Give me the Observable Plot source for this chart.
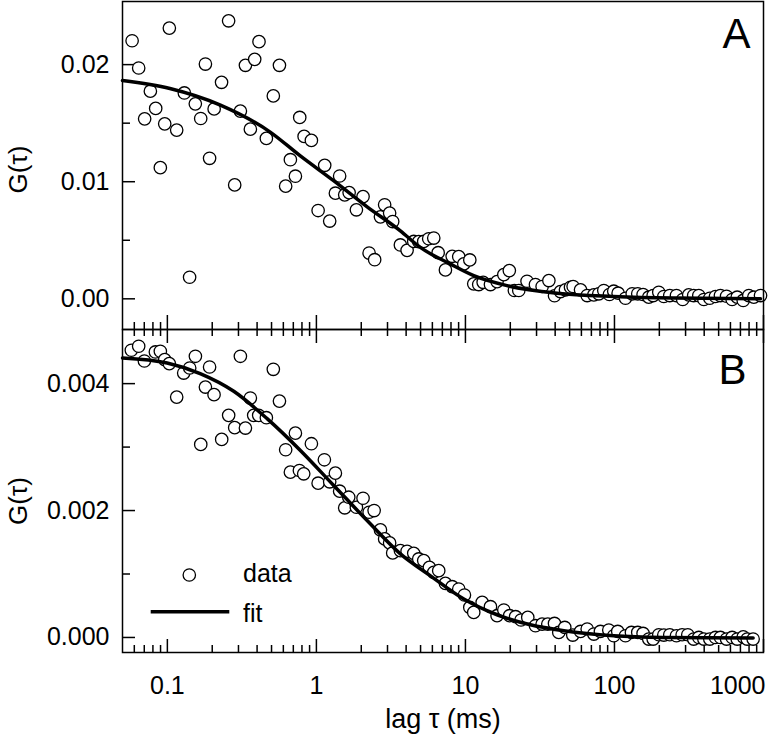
<!DOCTYPE html>
<html><head><meta charset="utf-8">
<script src="https://cdn.jsdelivr.net/npm/d3@7"></script>
<script src="https://cdn.jsdelivr.net/npm/@observablehq/plot@0.6"></script>
<style>
body{margin:0;background:#fff;}
#chart{position:relative;width:769px;height:737px;font-family:"Liberation Sans",Arial,sans-serif;}
#chart svg{position:absolute;left:0;overflow:visible;}
</style></head><body><div id="chart"></div>
<script>
// Panel A data
const tauA = [0.058,0.0642,0.0769,0.0704,0.0835,0.0897,0.096,0.1031,0.1155,0.130,0.141,0.154,0.1674,0.180,0.192,0.206,0.231,0.2576,0.283,0.309,0.334,0.3605,0.3855,0.412,0.4616,0.514,0.565,0.622,0.669,0.723,0.773,0.827,0.9256,1.027,1.137,1.228,1.341,1.432,1.549,1.658,1.855,2.056,2.258,2.46,2.69,2.87,3.1,3.25,3.66,4.06,4.5,4.86,5.25,5.67,6.13,6.56,7.34,8.15,9.02,9.75,10.7,11.37,12.28,13.15,14.72,16.3,18.1,19.7,21.3,22.8,25.9,29.5,32.7,36.3,39.6,43.4,46.9,50.7,52.8,59.2,65.6,72.7,78.5,84.8,92.5,98.9,105.8,118.5,131.5,143.3,155.6,169.8,181.8,198.3,214.3,235,260.6,287,315,340,368,398,436,476,514,565,616,666,731,797,861,955];
const gA = [0.02204,0.01971,0.01773,0.01537,0.01626,0.0112,0.01494,0.02312,0.01441,0.01758,0.00184,0.01665,0.0154,0.02005,0.012,0.01622,0.01849,0.02374,0.00973,0.01603,0.01994,0.01449,0.02045,0.02196,0.0137,0.01733,0.01994,0.00962,0.01188,0.01047,0.01549,0.01387,0.01353,0.00754,0.0114,0.00664,0.00902,0.01049,0.00888,0.00907,0.0076,0.00873,0.00391,0.00334,0.007,0.00803,0.00732,0.0066,0.0046,0.00414,0.0049,0.00488,0.0049,0.00513,0.00519,0.00394,0.00247,0.00363,0.0036,0.00298,0.00332,0.00128,0.00122,0.00141,0.00122,0.00147,0.00207,0.00241,0.00071,0.00071,0.0015,0.00122,0.00105,0.00156,0.00026,0.00062,0.00077,0.00099,0.00105,0.00077,0.00028,0.00034,0.00043,0.00071,0.00037,0.00065,0.00048,0.00005,0.00043,0.00043,0.00037,0.00014,0.00028,0.00056,0.0002,0.00028,0.00028,-0.00006,0.00034,0.00028,0.00028,-0.00006,0.00005,0.0002,0.00028,0.00022,-0.00006,0.00014,-0.00014,0.00028,0.00014,0.00028];
const fitTauA = [0.05,0.104,0.227,0.49,0.78,1.31,2.19,3.66,4.98,7.9,11.37,19.0,41.2,98.9,250,955];
const fitGA = [0.01864,0.01796,0.01654,0.01424,0.0122,0.01007,0.00786,0.00581,0.00439,0.00298,0.00198,0.00113,0.00048,0.0002,0.00006,0.0];

// Panel B data
const tauB = [0.0573,0.0642,0.0701,0.0831,0.0897,0.096,0.103,0.1155,0.1287,0.1412,0.1542,0.1675,0.18,0.192,0.2057,0.2315,0.2578,0.283,0.309,0.334,0.3605,0.3795,0.41,0.4616,0.514,0.565,0.622,0.669,0.723,0.769,0.822,0.9256,1.027,1.131,1.228,1.341,1.432,1.549,1.648,1.855,2.056,2.258,2.44,2.69,2.87,3.1,3.25,3.66,4.06,4.5,4.86,5.25,5.73,6.13,6.62,7.34,8.15,9.02,9.85,10.7,11.37,12.95,14.72,16.3,18.1,19.8,21.7,23.6,26.2,29.5,32.7,35.7,39.6,42.3,46.4,52.5,59.2,65.6,72.7,80.5,91.6,98.9,105.2,118.5,130,143.3,155.6,169.8,181.8,198.3,214.3,235,260.6,284.5,310.5,340,368,398,436,476,514,565,616,666,731,777,852];
const gB = [0.004526,0.004589,0.004357,0.004499,0.00451,0.004379,0.004316,0.003788,0.004167,0.004246,0.004431,0.003042,0.003946,0.004262,0.003826,0.003121,0.0035,0.003306,0.004431,0.0033,0.003773,0.0035,0.0035,0.003463,0.004226,0.003725,0.002958,0.002605,0.00322,0.002631,0.002579,0.003053,0.002431,0.0028,0.002453,0.002589,0.002305,0.002043,0.00221,0.002052,0.002194,0.001973,0.002,0.001695,0.001553,0.00149,0.001332,0.001369,0.001358,0.001326,0.001237,0.001211,0.001105,0.001026,0.001053,0.000852,0.0008,0.000764,0.000669,0.000474,0.000395,0.000553,0.000485,0.000343,0.000432,0.000343,0.000327,0.000275,0.000316,0.000185,0.000211,0.000211,0.000221,0.000079,0.000158,0.000038,0.000095,0.000133,0.000054,0.000095,0.000117,0.000027,0.000095,0.000027,0.000079,0.000079,0.000063,-0.000025,-0.000025,0.000043,0.000038,0.000043,0.000027,0.000043,0.000043,-0.000025,0,-0.000025,-0.000025,0,0,-0.000025,0,-0.000025,0.00001,-0.000025,-0.000025];
const fitTauB = [0.05,0.0996,0.166,0.279,0.467,0.781,1.307,2.19,3.66,5.8,9.75,16.3,27.3,45.8,98.9,214,852];
const fitGB = [0.004404,0.004325,0.004158,0.003879,0.003448,0.002947,0.002395,0.001842,0.001317,0.000974,0.000606,0.000358,0.0002,0.000106,0.000027,0,-0.00001];

// Axes
const xDomain = [0.05, 1000];
const xMajor = [0.1, 1, 10, 100, 1000];
const xMinor = [0.06,0.07,0.08,0.09,0.2,0.3,0.4,0.5,0.6,0.7,0.8,0.9,2,3,4,5,6,7,8,9,20,30,40,50,60,70,80,90,200,300,400,500,600,700,800,900];
const xTickLabels = ["0.1","1","10","100","1000"];
const yDomainA = [-0.00262, 0.02539];
const yMajorA = [0, 0.01, 0.02];
const yMinorA = [0.005, 0.015];
const yLabelsA = ["0.00","0.01","0.02"];
const yDomainB = [-0.000237, 0.004853];
const yMajorB = [0, 0.002, 0.004];
const yMinorB = [0.001, 0.003];
const yLabelsB = ["0.000","0.002","0.004"];
const panelNames = ["A","B"];
const legendLabels = ["data","fit"];
const xLabel = "lag τ (ms)";
const yLabel = "G(τ)";

const W = 769, ML = 122, MR = 6;
const FW = W - ML - MR;
const font = "Liberation Sans, Arial, sans-serif";
const tickFont = 25;
const lw = 1.5;

const dataA = tauA.map((t,i)=>({t, g:gA[i]}));
const fitA = fitTauA.map((t,i)=>({t, g:fitGA[i]}));
const dataB = tauB.map((t,i)=>({t, g:gB[i]}));
const fitB = fitTauB.map((t,i)=>({t, g:fitGB[i]}));

function yTickMarks(major, minor, labels){
  return [
    Plot.tickY(major, {y: d=>d, insetRight: FW-13, stroke:"black", strokeWidth: lw}),
    Plot.tickY(minor, {y: d=>d, insetRight: FW-8, stroke:"black", strokeWidth: lw}),
    Plot.text(major, {y: d=>d, text: (d,i)=>labels[i], frameAnchor:"left", dx:-13, textAnchor:"end", lineAnchor:"middle", fontSize: tickFont, fill:"black"})
  ];
}

// Panel A
const HA = 330, MTA = 1, MBA = 1, FHA = HA - MTA - MBA;
const plotA = Plot.plot({
  width: W, height: HA, marginLeft: ML, marginRight: MR, marginTop: MTA, marginBottom: MBA,
  style: {background:"transparent", overflow:"visible", fontFamily: font},
  x: {type:"log", domain: xDomain, axis: null},
  y: {domain: yDomainA, axis: null},
  marks: [
    Plot.tickX(xMajor, {x: d=>d, insetTop: FHA-14, stroke:"black", strokeWidth: lw}),
    Plot.tickX(xMinor, {x: d=>d, insetTop: FHA-7, stroke:"black", strokeWidth: lw}),
    ...yTickMarks(yMajorA, yMinorA, yLabelsA),
    Plot.dot(dataA, {x:"t", y:"g", r:6.2, fill:"white", stroke:"black", strokeWidth:1.3}),
    Plot.line(fitA, {x:"t", y:"g", stroke:"black", strokeWidth:3.5, curve:"monotone-x"}),
    Plot.frame({stroke:"black", strokeWidth: lw}),
    Plot.text([panelNames[0]], {frameAnchor:"top-right", dx:-13, dy:33, textAnchor:"end", lineAnchor:"middle", fontSize:42, fill:"black"}),
    Plot.text([yLabel], {frameAnchor:"left", dx:-104, dy:4, rotate:-90, textAnchor:"middle", lineAnchor:"middle", fontSize:26, fill:"black"})
  ]
});
plotA.style.top = "0px";

// Panel B
const HB = 408, MTB = 0, MBB = 85, FHB = HB - MTB - MBB;
const plotB = Plot.plot({
  width: W, height: HB, marginLeft: ML, marginRight: MR, marginTop: MTB, marginBottom: MBB,
  style: {background:"transparent", overflow:"visible", fontFamily: font},
  x: {type:"log", domain: xDomain, axis: null},
  y: {domain: yDomainB, axis: null},
  marks: [
    Plot.tickX(xMajor, {x: d=>d, insetTop: FHB-13, stroke:"black", strokeWidth: lw}),
    Plot.tickX(xMinor, {x: d=>d, insetTop: FHB-7, stroke:"black", strokeWidth: lw}),
    Plot.tickX(xMajor, {x: d=>d, insetBottom: FHB-14, stroke:"black", strokeWidth: lw}),
    Plot.tickX(xMinor, {x: d=>d, insetBottom: FHB-7, stroke:"black", strokeWidth: lw}),
    ...yTickMarks(yMajorB, yMinorB, yLabelsB),
    Plot.dot(dataB, {x:"t", y:"g", r:6.2, fill:"white", stroke:"black", strokeWidth:1.3}),
    Plot.line(fitB, {x:"t", y:"g", stroke:"black", strokeWidth:3.5, curve:"monotone-x"}),
    Plot.frame({stroke:"black", strokeWidth: lw}),
    Plot.text([panelNames[1]], {frameAnchor:"top-right", dx:-17, dy:41, textAnchor:"end", lineAnchor:"middle", fontSize:42, fill:"black"}),
    Plot.text([yLabel], {frameAnchor:"left", dx:-104, dy:10, rotate:-90, textAnchor:"middle", lineAnchor:"middle", fontSize:26, fill:"black"}),
    Plot.text(xMajor.slice(0,4), {x: d=>d, text:(d,i)=>xTickLabels[i], frameAnchor:"bottom", dy:33, lineAnchor:"middle", fontSize:tickFont, fill:"black"}),
    Plot.text(xMajor.slice(4), {x: d=>d, text:()=>xTickLabels[4], frameAnchor:"bottom", dy:33, dx:2, textAnchor:"end", lineAnchor:"middle", fontSize:tickFont, fill:"black"}),
    Plot.text([xLabel], {frameAnchor:"bottom", dy:67, lineAnchor:"middle", fontSize:27, fill:"black"})
  ]
});
plotB.style.top = "329px";

// Legend (decoration)
const sB = d3.select(plotB);
sB.append("circle").attr("cx",189.3).attr("cy",246).attr("r",6.2).attr("fill","white").attr("stroke","black").attr("stroke-width",1.3);
sB.append("line").attr("x1",150.7).attr("x2",229.3).attr("y1",282.7).attr("y2",282.7).attr("stroke","black").attr("stroke-width",3.5);
sB.append("text").attr("x",243).attr("y",253).attr("text-anchor","start").attr("font-size",25).attr("font-family",font).text(legendLabels[0]);
sB.append("text").attr("x",243).attr("y",293).attr("text-anchor","start").attr("font-size",25).attr("font-family",font).text(legendLabels[1]);

const chart = document.getElementById("chart");
chart.appendChild(plotA);
chart.appendChild(plotB);
</script></body></html>
